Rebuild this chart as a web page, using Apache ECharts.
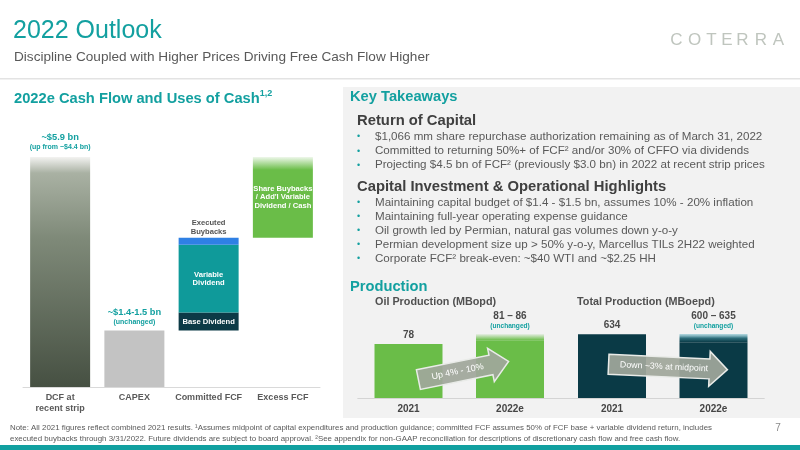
<!DOCTYPE html>
<html><head><meta charset="utf-8">
<script src="https://cdn.jsdelivr.net/npm/echarts@6/dist/echarts.min.js"></script>
<style>html,body{margin:0;padding:0;background:#fff}#c{width:800px;height:450px}</style>
</head><body><div id="c"></div>
<script>
// ---------- Data: cash flow waterfall ($ bn) ----------
const cashCategories = ['DCF at\nrecent strip', 'CAPEX', 'Committed FCF', 'Excess FCF'];
const dcfValue = 5.9;
const capexValue = 1.45;
const baseDividend = 0.46;
const variableDividend = 1.74;
const executedBuybacks = 0.18;
const excessFcf = 2.07;
const dcfLabel = ['~$5.9 bn', '(up from ~$4.4 bn)'];
const capexLabel = ['~$1.4-1.5 bn', '(unchanged)'];
const segmentLabels = ['Base Dividend', 'Variable\nDividend', 'Executed\nBuybacks', 'Share Buybacks\n/ Add\'l Variable\nDividend / Cash'];

// ---------- Data: production ----------
const prodCategories = ['2021', '2022e'];
const oilLow = [78, 81];
const oilRangeExtra = [0, 5];      // 81 -> 86
const oilLabels = ['78', '81 – 86'];
const totalLow = [634, 600];
const totalRangeExtra = [0, 35];   // 600 -> 635
const totalLabels = ['634', '600 – 635'];
const rangeNote = ['', '(unchanged)'];

// ---------- Text ----------
const returnBullets = [
  '$1,066 mm share repurchase authorization remaining as of March 31, 2022',
  'Committed to returning 50%+ of FCF² and/or 30% of CFFO via dividends',
  'Projecting $4.5 bn of FCF² (previously $3.0 bn) in 2022 at recent strip prices'
];
const capitalBullets = [
  'Maintaining capital budget of $1.4 - $1.5 bn, assumes 10% - 20% inflation',
  'Maintaining full-year operating expense guidance',
  'Oil growth led by Permian, natural gas volumes down y-o-y',
  'Permian development size up > 50% y-o-y, Marcellus TILs 2H22 weighted',
  'Corporate FCF² break-even: ~$40 WTI and ~$2.25 HH'
];
const footnoteLines = [
  'Note: All 2021 figures reflect combined 2021 results. ¹Assumes midpoint of capital expenditures and production guidance; committed FCF assumes 50% of FCF base + variable dividend return, includes',
  'executed buybacks through 3/31/2022. Future dividends are subject to board approval. ²See appendix for non-GAAP reconciliation for descriptions of discretionary cash flow and free cash flow.'
];

const FONT = '"Liberation Sans", Arial, Helvetica, sans-serif';
const TEAL = '#13a0a0';
const chart = echarts.init(document.getElementById('c'));

function onlyAt(idx, v, extra) {
  return cashCategories.map((_, i) => i === idx ? (extra ? Object.assign({ value: v }, extra) : v) : 0);
}
const committedTotal = baseDividend + variableDividend + executedBuybacks;
const baseOffsets = [0, 0, capexValue, capexValue + committedTotal];
const grad = (stops) => new echarts.graphic.LinearGradient(0, 0, 0, 1, stops.map(s => ({ offset: s[0], color: s[1] })));

const topRich = {
  a: { fontFamily: FONT, fontSize: 9.3, fontWeight: 'bold', color: TEAL, lineHeight: 11 },
  b: { fontFamily: FONT, fontSize: 7, fontWeight: 'bold', color: TEAL, lineHeight: 9 }
};
const inLabel = { show: true, position: 'inside', color: '#fff', fontFamily: FONT, fontSize: 7.6, fontWeight: 'bold', lineHeight: 8.3 };

const cashSeries = [
  { name: 'base', data: baseOffsets, itemStyle: { color: 'rgba(0,0,0,0)' }, silent: true },
  { name: 'DCF', data: onlyAt(0, dcfValue, { label: { show: true, position: 'top', distance: 5, formatter: '{a|' + dcfLabel[0] + '}\n{b|' + dcfLabel[1] + '}', rich: topRich } }),
    itemStyle: { color: grad([[0, '#f3f3f1'], [0.07, '#a9b1a3'], [0.35, '#7f8a79'], [1, '#465042']]) } },
  { name: 'CAPEX', data: onlyAt(1, capexValue, { label: { show: true, position: 'top', distance: 3.5, formatter: '{a|' + capexLabel[0] + '}\n{b|' + capexLabel[1] + '}', rich: topRich } }),
    itemStyle: { color: '#c3c3c3' } },
  { name: 'Base Dividend', data: onlyAt(2, baseDividend, { label: Object.assign({}, inLabel, { formatter: segmentLabels[0] }) }),
    itemStyle: { color: '#0c3a46' } },
  { name: 'Variable Dividend', data: onlyAt(2, variableDividend, { label: Object.assign({}, inLabel, { formatter: segmentLabels[1] }) }),
    itemStyle: { color: '#0f9a9a' } },
  { name: 'Executed Buybacks', data: onlyAt(2, executedBuybacks, { label: Object.assign({}, inLabel, { position: 'top', distance: 2, color: '#555', formatter: segmentLabels[2] }) }),
    itemStyle: { color: '#2f80e4' } },
  { name: 'Excess FCF', data: onlyAt(3, excessFcf, { label: Object.assign({}, inLabel, { formatter: segmentLabels[3] }) }),
    itemStyle: { color: grad([[0, '#eef7ea'], [0.16, '#6abd48'], [1, '#6abd48']]) } }
].map(s => Object.assign({ type: 'bar', stack: 'cash', xAxisIndex: 0, yAxisIndex: 0, barWidth: 60 }, s));

const prodRich = {
  v: { fontFamily: FONT, fontSize: 10, fontWeight: 'bold', color: '#4a4a4a', lineHeight: 11 },
  u: { fontFamily: FONT, fontSize: 6.6, fontWeight: 'bold', color: TEAL, lineHeight: 8 }
};
function prodLabelData(extra, labels) {
  return extra.map((v, i) => ({
    value: v,
    label: {
      show: true, position: 'top', distance: rangeNote[i] ? 4 : 3, rich: prodRich,
      formatter: '{v|' + labels[i] + '}' + (rangeNote[i] ? '\n{u|' + rangeNote[i] + '}' : '')
    }
  }));
}
const prodSeries = [
  { type: 'bar', stack: 'oil', xAxisIndex: 1, yAxisIndex: 1, barWidth: 68, data: oilLow, itemStyle: { color: '#6abd48' } },
  { type: 'bar', stack: 'oil', xAxisIndex: 1, yAxisIndex: 1, barWidth: 68, data: prodLabelData(oilRangeExtra, oilLabels),
    itemStyle: { color: grad([[0, 'rgba(106,189,72,0.08)'], [1, '#6abd48']]) } },
  { type: 'bar', stack: 'tot', xAxisIndex: 2, yAxisIndex: 2, barWidth: 68, data: totalLow, itemStyle: { color: '#0a3a46' } },
  { type: 'bar', stack: 'tot', xAxisIndex: 2, yAxisIndex: 2, barWidth: 68, data: prodLabelData(totalRangeExtra, totalLabels),
    itemStyle: { color: grad([[0, 'rgba(120,190,205,0.5)'], [0.5, '#2f6f7c'], [1, '#0a3a46']]) } }
];

function catAxis(gridIndex, data, lineColor, fontSize, lineHeight, color) {
  return {
    type: 'category', gridIndex, data,
    axisTick: { show: false },
    axisLine: { lineStyle: { color: lineColor, width: 1 } },
    axisLabel: { interval: 0, color, fontFamily: FONT, fontWeight: 'bold', fontSize, lineHeight, margin: 5 }
  };
}
function valAxis(gridIndex, min, max) {
  return { type: 'value', gridIndex, min, max, show: false, splitLine: { show: false } };
}

// ---------- decorations ----------
const graphics = [];
graphics.push({ type: 'rect', z: -1, shape: { x: 343, y: 87, width: 457, height: 331 }, style: { fill: '#f2f2f2' } });
graphics.push({ type: 'rect', z: -1, shape: { x: 0, y: 78, width: 800, height: 1.5 }, style: { fill: '#e3e3e3' } });
graphics.push({ type: 'rect', z: -1, shape: { x: 0, y: 445, width: 800, height: 5 }, style: { fill: '#11a0a0' } });
function txt(x, y, text, font, fill, align, extra) {
  return Object.assign({ type: 'text', x, y, z: 5, style: { text, font, fill, textAlign: align || 'left', textVerticalAlign: 'middle' } }, extra || {});
}
graphics.push(txt(13, 31, '2022 Outlook', '25px ' + FONT, TEAL));
graphics.push(txt(14, 57, 'Discipline Coupled with Higher Prices Driving Free Cash Flow Higher', '13.6px ' + FONT, '#595959'));
const logoLetters = ['C', 'O', 'T', 'E', 'R', 'R', 'A'];
const logoCenters = [676.5, 694.5, 711.5, 727, 742.5, 761, 778.5];
logoLetters.forEach((l, i) => graphics.push(txt(logoCenters[i], 40, l, '17px ' + FONT, '#bfc5be', 'center')));
graphics.push({ type: 'text', x: 14, y: 89, z: 5, style: {
  text: '{h|2022e Cash Flow and Uses of Cash}{s|1,2}',
  rich: { h: { font: 'bold 14.7px ' + FONT, fill: TEAL, lineHeight: 17, verticalAlign: 'bottom' },
          s: { font: 'bold 9px ' + FONT, fill: TEAL, lineHeight: 17, verticalAlign: 'top' } } } });
graphics.push(txt(350, 97, 'Key Takeaways', 'bold 14.7px ' + FONT, TEAL));
graphics.push(txt(357, 121, 'Return of Capital', 'bold 14.8px ' + FONT, '#404040'));
const bulletFont = '11.6px ' + FONT;
returnBullets.forEach((b, i) => {
  const y = 137 + i * 14.1;
  graphics.push(txt(357, y, '•', '9px ' + FONT, TEAL));
  graphics.push(txt(375, y, b, bulletFont, '#595959'));
});
graphics.push(txt(357, 187, 'Capital Investment & Operational Highlights', 'bold 14.8px ' + FONT, '#404040'));
capitalBullets.forEach((b, i) => {
  const y = 202.5 + i * 14;
  graphics.push(txt(357, y, '•', '9px ' + FONT, TEAL));
  graphics.push(txt(375, y, b, bulletFont, '#595959'));
});
graphics.push(txt(350, 287, 'Production', 'bold 14.7px ' + FONT, TEAL));
graphics.push(txt(375, 302, 'Oil Production (MBopd)', 'bold 10.8px ' + FONT, '#505050'));
graphics.push(txt(577, 302, 'Total Production (MBoepd)', 'bold 10.8px ' + FONT, '#505050'));

function arrow(cx, cy, len, bh, hh, hl, rot, text, tdx, fontSize) {
  const h = len / 2;
  graphics.push({ type: 'polygon', x: cx, y: cy, rotation: rot, z: 20,
    shape: { points: [[-h, -bh], [h - hl, -bh], [h - hl, -hh], [h, 0], [h - hl, hh], [h - hl, bh], [-h, bh]] },
    style: { fill: 'rgba(160,167,155,0.93)', stroke: '#e9ebe8', lineWidth: 1.5 } });
  graphics.push({ type: 'text', x: cx, y: cy, rotation: rot, z: 21,
    style: { text, x: tdx, y: 0, font: fontSize + 'px ' + FONT, fill: '#fff', textAlign: 'center', textVerticalAlign: 'middle' } });
}
arrow(463.5, 370.5, 92, 10, 17, 18, 0.2, 'Up 4% - 10%', -6, 9);
arrow(668, 367, 119, 10, 17.5, 18, -0.045, 'Down ~3% at midpoint', -4, 8.8);

footnoteLines.forEach((l, i) => graphics.push(txt(10, 428 + i * 11, l, '7.9px ' + FONT, '#595959')));
graphics.push(txt(778, 428, '7', '10px ' + FONT, '#8a8a8a', 'center'));

chart.setOption({
  animation: false,
  backgroundColor: 'rgba(0,0,0,0)',
  textStyle: { fontFamily: FONT },
  grid: [
    { left: 23, top: 157, width: 297, height: 230 },
    { left: 357.75, top: 334, width: 203, height: 64 },
    { left: 561.25, top: 334, width: 203, height: 64 }
  ],
  xAxis: [
    catAxis(0, cashCategories, '#d9d9d9', 9, 11, '#595959'),
    catAxis(1, prodCategories, '#d4d4d4', 10, 12, '#454545'),
    catAxis(2, prodCategories, '#d4d4d4', 10, 12, '#454545')
  ],
  yAxis: [valAxis(0, 0, dcfValue), valAxis(1, 35, 86), valAxis(2, 362, 635)],
  series: cashSeries.concat(prodSeries),
  graphic: { elements: graphics }
});
</script></body></html>
